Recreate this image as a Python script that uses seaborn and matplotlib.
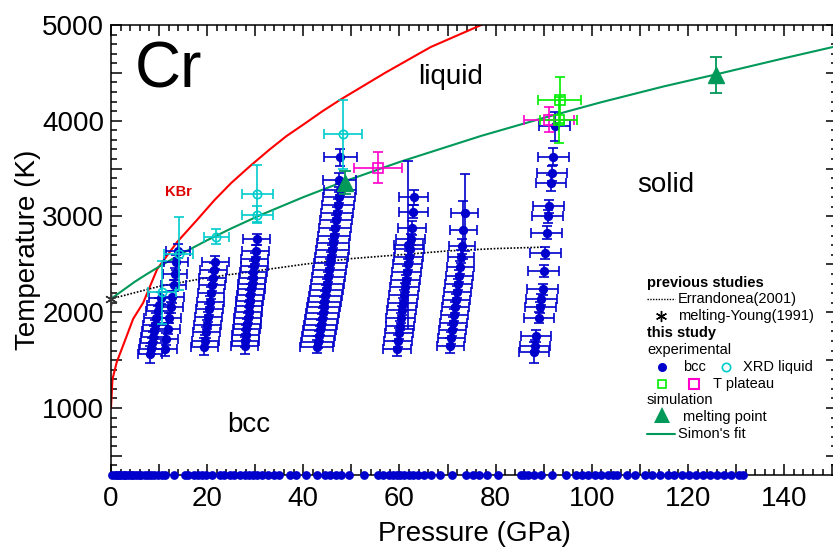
import numpy as np
import pandas as pd
import matplotlib
matplotlib.use("Agg")
import matplotlib.pyplot as plt
from matplotlib.lines import Line2D
from matplotlib.ticker import MultipleLocator, FuncFormatter
import seaborn as sns

# ---------------- data ----------------
# red curve (KBr)
red_P = [0, 0.3, 1.2, 2.5, 4.6, 6.7, 9.6, 13.7, 18, 21.5, 25, 29, 33, 36.5, 40, 44, 47.7, 57, 66.5, 77, 80]
red_T = [1000, 1300, 1480, 1650, 1930, 2100, 2450, 2730, 2970, 3170, 3350, 3530, 3700, 3840, 3960, 4100, 4220, 4500, 4770, 5000, 5080]

# Simon's fit (green)
simon_P = [0, 2.5, 5, 7.5, 10, 15, 20, 25, 31, 40, 48, 60, 77, 90, 102, 115, 126, 140, 151]
simon_T = [2140, 2230, 2320, 2400, 2476, 2620, 2752, 2875, 3013, 3202, 3357, 3569, 3842,
           4030, 4194, 4359, 4486, 4653, 4780]

# Errandonea (2001) dotted
err_P = [0, 10, 20, 30, 40, 50, 60, 70, 80, 90]
err_T = [2140, 2270, 2360, 2430, 2500, 2560, 2600, 2640, 2665, 2680]

# melting-Young (1991)
young_P = [0]
young_T = [2140]

# bcc experimental columns
colA_P = [8.2, 8.4, 8.6, 8.8, 9.0, 9.2, 9.4, 9.7, 10.0, 10.3]
colA_T = [1560, 1620, 1680, 1740, 1800, 1870, 1940, 2010, 2080, 2150]
colA_dT = [90, 60, 50, 50, 60, 50, 50, 60, 70, 60]

colB_P = [11.2, 11.5, 11.8, 12.1, 12.4, 12.7, 13.0, 13.3, 13.6, 13.9]
colB_T = [1620, 1720, 1830, 1940, 2050, 2160, 2280, 2400, 2520, 2640]
colB_dT = [80, 60, 60, 50, 60, 60, 60, 60, 80, 70]

colC_P = [19.4, 19.6, 19.8, 20.0, 20.2, 20.4, 20.6, 20.8, 21.0, 21.2, 21.4, 21.7]
colC_T = [1640, 1700, 1790, 1870, 1950, 2030, 2110, 2200, 2280, 2360, 2440, 2520]
colC_dT = [90, 60, 60, 50, 50, 60, 60, 60, 60, 60, 70, 70]

colD_P = [27.8, 27.9, 28.0, 28.1, 28.3, 28.4, 28.6, 28.7, 28.9, 29.0, 29.2, 29.3,
          29.5, 29.6, 29.8, 29.9, 30.1, 30.3]
colD_T = [1650, 1700, 1760, 1820, 1880, 1940, 2000, 2060, 2120, 2180, 2240, 2300,
          2360, 2420, 2480, 2560, 2640, 2760]
colD_dT = [90, 60, 50, 50, 50, 50, 50, 50, 50, 50, 50, 50, 50, 50, 60, 60, 60, 60]

colE_P = [42.8, 43.0, 43.2, 43.4, 43.6, 43.8, 44.0, 44.2, 44.4, 44.6, 44.8, 45.0, 45.2,
          45.4, 45.6, 45.8, 46.0, 46.2, 46.4, 46.6, 46.8, 47.0, 47.2, 47.4, 47.6, 47.5, 47.7]
colE_T = [1640, 1690, 1750, 1810, 1870, 1930, 1990, 2050, 2110, 2170, 2230, 2300, 2370,
          2440, 2510, 2580, 2650, 2720, 2800, 2880, 2960, 3040, 3120, 3200, 3280, 3380, 3620]
colE_dT = [70, 60, 50, 50, 50, 50, 50, 50, 50, 50, 50, 50, 50,
           50, 50, 50, 50, 50, 60, 60, 60, 60, 60, 60, 60, 70, 90]

colF_P = [59.5, 59.7, 59.9, 60.1, 60.3, 60.5, 60.7, 60.9, 61.1, 61.3, 61.5, 61.7,
          61.9, 62.1, 62.3, 62.6, 62.9, 63.0, 61.8]
colF_T = [1620, 1700, 1780, 1860, 1940, 2020, 2100, 2180, 2260, 2340, 2420, 2500,
          2580, 2660, 2760, 2880, 3050, 3200, 2700]
colF_dT = [80, 60, 60, 50, 50, 50, 50, 50, 50, 50, 60, 60,
           60, 60, 60, 70, 70, 80, 880]

colG_P = [70.6, 70.8, 71.0, 71.2, 71.4, 71.6, 71.8, 72.0, 72.2, 72.4, 72.6, 72.8,
          73.0, 73.3, 73.6]
colG_T = [1650, 1730, 1810, 1890, 1970, 2050, 2130, 2210, 2290, 2380, 2470, 2580,
          2690, 2860, 3040]
colG_dT = [80, 60, 60, 60, 60, 60, 60, 60, 60, 60, 70, 70, 80, 300, 400]

colH_P = [88.0, 88.2, 88.4, 89.0, 89.3, 89.5, 89.8, 90.0, 90.3, 90.6, 90.8, 91.0,
          91.5, 91.7, 92.0, 92.3]
colH_T = [1580, 1650, 1750, 1945, 2050, 2135, 2240, 2430, 2620, 2830, 3000, 3105,
          3350, 3450, 3625, 3940]
colH_dT = [110, 60, 60, 60, 60, 60, 60, 60, 60, 70, 70, 70, 80, 80, 90, 150]

col_dP = [2.5, 2.5, 2.8, 2.8, 3.4, 3.0, 2.8, 3.2]

# XRD liquid (cyan)
xrd_P = [10.6, 14.1, 21.9, 30.4, 30.4, 48.2]
xrd_T = [2210, 2610, 2790, 3240, 3020, 3860]
xrd_dP = [3.0, 3.0, 2.6, 3.2, 3.2, 4.0]
xrd_dT = [330, 380, 80, 300, 90, 360]

# T plateau (magenta / green squares)
platm_P = [55.6, 91.0]
platm_T = [3510, 4010]
platm_dP = [5.0, 5.2]
platm_dT = [160, 130]

platg_P = [93.3, 93.1]
platg_T = [4220, 4010]
platg_dP = [4.4, 3.9]
platg_dT = [240, 240]

# simulation melting points
sim_P = [48.7, 125.8]
sim_T = [3350, 4480]
sim_dT = [120, 185]

# points at room temperature along bottom
bottom_P = [0.3, 0.8, 1.2, 1.7, 2.1, 2.6, 3.0, 3.5, 4.1, 4.6, 5.2, 5.8, 6.3, 7.0, 7.6, 8.3,
            9.0, 9.8, 10.6, 11.2, 13.0, 15.3, 16.0, 17.2, 18.1, 19.0, 19.8, 21.1, 22.6,
            23.5, 24.8, 25.6, 26.9, 27.8, 28.6, 29.5, 30.3, 31.4, 32.6, 33.8, 35.0, 37.3,
            38.5, 40.6, 42.8, 44.5, 45.6, 46.7, 47.8, 49.5, 52.7, 55.5, 56.6, 57.8, 58.7,
            59.4, 60.2, 61.0, 61.9, 62.8, 63.9, 65.2, 66.5, 68.4, 71.0, 73.8, 75.2, 76.6,
            78.2, 80.5, 85.2, 86.0, 86.8, 88.0, 89.4, 91.8, 94.6, 96.8, 98.0, 99.2, 100.6,
            102.0, 103.4, 104.4, 105.2, 107.3, 109.0, 111.0, 112.6, 114.1, 115.8, 117.2,
            118.7, 120.2, 121.6, 123.2, 124.6, 126.0, 127.5, 129.0, 130.6, 131.5]
bottom_T = [300] * len(bottom_P)

# ---------------- style ----------------
sns.set_theme(style="ticks")
plt.rcParams['font.family'] = ['Liberation Sans', 'DejaVu Sans']
plt.rcParams['axes.linewidth'] = 1.1
plt.rcParams['text.color'] = 'black'
plt.rcParams['axes.labelcolor'] = 'black'
plt.rcParams['xtick.color'] = 'black'
plt.rcParams['ytick.color'] = 'black'
plt.rcParams['axes.edgecolor'] = 'black'

BLUE = '#0000CC'
CYAN = '#00CCCC'
MAG = '#FF00CC'
LIME = '#00EE00'
DKGREEN = '#00995A'
RED = '#FF0000'

W, H = 833, 549
fig = plt.figure(figsize=(W / 100, H / 100), dpi=100)
ax = fig.add_axes([111 / W, 1 - 475 / H, (837 - 111) / W, (475 - 25) / H])

# lines
sns.lineplot(x=red_P, y=red_T, ax=ax, color=RED, lw=1.5, sort=False, estimator=None)
sns.lineplot(x=simon_P, y=simon_T, ax=ax, color=DKGREEN, lw=1.5, sort=False, estimator=None)
ax.plot(err_P, err_T, color='black', lw=1.2, ls=(0, (1, 1)))

# bcc columns
cols = [(colA_P, colA_T, colA_dT), (colB_P, colB_T, colB_dT), (colC_P, colC_T, colC_dT),
        (colD_P, colD_T, colD_dT), (colE_P, colE_T, colE_dT), (colF_P, colF_T, colF_dT),
        (colG_P, colG_T, colG_dT), (colH_P, colH_T, colH_dT)]
for (P, T, dT), dP in zip(cols, col_dP):
    ax.errorbar(P, T, xerr=dP, yerr=dT, fmt='none', ecolor=BLUE, elinewidth=1.2,
                capsize=3.5, capthick=1.2, zorder=3)
    sns.scatterplot(x=P, y=T, ax=ax, color=BLUE, s=45, edgecolor=BLUE, linewidth=0, zorder=4)

# XRD liquid
ax.errorbar(xrd_P, xrd_T, xerr=xrd_dP, yerr=xrd_dT, fmt='o', ms=6, mfc='none', mec=CYAN,
            mew=1.2, ecolor=CYAN, elinewidth=1.2, capsize=3.5, capthick=1.2, zorder=5)
# T plateau
ax.errorbar(platm_P, platm_T, xerr=platm_dP, yerr=platm_dT, fmt='s', ms=7, mfc='none',
            mec=MAG, mew=1.2, ecolor=MAG, elinewidth=1.2, capsize=3.5, capthick=1.2, zorder=5)
ax.errorbar(platg_P, platg_T, xerr=platg_dP, yerr=platg_dT, fmt='s', ms=7, mfc='none',
            mec=LIME, mew=1.2, ecolor=LIME, elinewidth=1.2, capsize=3.5, capthick=1.2, zorder=5)
# simulation
ax.errorbar(sim_P, sim_T, yerr=sim_dT, fmt='^', ms=11, color=DKGREEN, ecolor=DKGREEN,
            elinewidth=1.3, capsize=4, capthick=1.3, zorder=6)
# Young
ax.plot(young_P, young_T, marker=(6, 2, 0), ms=9, color='#333333', mew=1.0, ls='none',
        clip_on=False, zorder=7)
# bottom points
sns.scatterplot(x=bottom_P, y=bottom_T, ax=ax, color=BLUE, s=40, linewidth=0,
                clip_on=False, zorder=8)

# axes
ax.set_xlim(0, 151)
ax.set_ylim(300, 5000)
ax.xaxis.set_major_locator(MultipleLocator(10))
ax.xaxis.set_minor_locator(MultipleLocator(2))
ax.yaxis.set_major_locator(MultipleLocator(500))
ax.yaxis.set_minor_locator(MultipleLocator(100))
ax.xaxis.set_major_formatter(FuncFormatter(lambda v, p: f"{int(round(v))}" if round(v) % 20 == 0 else ""))
ax.yaxis.set_major_formatter(FuncFormatter(lambda v, p: f"{int(round(v))}" if round(v) % 1000 == 0 else ""))
ax.tick_params(which='both', direction='in', top=True, right=True, width=1.1,
               labelsize=20, color='black', labelcolor='black')
ax.tick_params(which='major', length=8)
ax.tick_params(which='minor', length=4)
ax.tick_params(axis='x', pad=8)
ax.tick_params(axis='y', pad=5)
for s in ax.spines.values():
    s.set_color('black')
    s.set_linewidth(1.1)
ax.set_xlabel('Pressure (GPa)', fontsize=20, labelpad=6.5, color='black')
ax.set_ylabel('Temperature (K)', fontsize=20, labelpad=0.5, color='black')

# annotations (figure pixel coordinates)
def fx(px):
    return px / W

def fy(py):
    return 1 - py / H

fig.text(fx(135), fy(70), 'Cr', fontsize=46, va='center', ha='left')
fig.text(fx(418), fy(77), 'liquid', fontsize=20, va='center', ha='left')
fig.text(fx(637), fy(185), 'solid', fontsize=20, va='center', ha='left')
fig.text(fx(227), fy(425), 'bcc', fontsize=20, va='center', ha='left')
fig.text(fx(165), fy(192), 'KBr', fontsize=10.5, va='center', ha='left',
         color='#DD0000', fontweight='bold')

# legend
LFS = 10.5
fig.text(fx(647), fy(283), 'previous studies', fontsize=LFS, fontweight='bold', va='center')
fig.add_artist(Line2D([fx(647), fx(675)], [fy(299), fy(299)], color='black', lw=1.0,
                      ls=(0, (1, 1)), transform=fig.transFigure))
fig.text(fx(678), fy(299), 'Errandonea(2001)', fontsize=LFS, va='center')
fig.add_artist(Line2D([fx(661)], [fy(316)], marker=(6, 2, 0), ms=8, color='black', mew=1.0,
                      transform=fig.transFigure))
fig.text(fx(678), fy(316), 'melting-Young(1991)', fontsize=LFS, va='center')
fig.text(fx(647), fy(333), 'this study', fontsize=LFS, fontweight='bold', va='center')
fig.text(fx(647), fy(350), 'experimental', fontsize=LFS, va='center')
fig.add_artist(Line2D([fx(662)], [fy(367)], marker='o', ms=6.5, color=BLUE, mew=0,
                      transform=fig.transFigure))
fig.text(fx(683), fy(367), 'bcc', fontsize=LFS, va='center')
fig.add_artist(Line2D([fx(726)], [fy(367)], marker='o', ms=6, mfc='none', mec=CYAN, mew=1.2,
                      transform=fig.transFigure))
fig.text(fx(743), fy(367), 'XRD liquid', fontsize=LFS, va='center')
fig.add_artist(Line2D([fx(662)], [fy(384)], marker='s', ms=6, mfc='none', mec=LIME, mew=1.2,
                      transform=fig.transFigure))
fig.add_artist(Line2D([fx(694)], [fy(384)], marker='s', ms=7.5, mfc='none', mec=MAG, mew=1.5,
                      transform=fig.transFigure))
fig.text(fx(713), fy(384), 'T plateau', fontsize=LFS, va='center')
fig.text(fx(647), fy(400), 'simulation', fontsize=LFS, va='center')
fig.add_artist(Line2D([fx(662)], [fy(415)], marker='^', ms=11, color=DKGREEN, mew=0,
                      transform=fig.transFigure))
fig.text(fx(683), fy(417), 'melting point', fontsize=LFS, va='center')
fig.add_artist(Line2D([fx(647), fx(675)], [fy(434), fy(434)], color=DKGREEN, lw=1.5,
                      transform=fig.transFigure))
fig.text(fx(678), fy(434), "Simon's fit", fontsize=LFS, va='center')

fig.savefig('out.png', dpi=100)
